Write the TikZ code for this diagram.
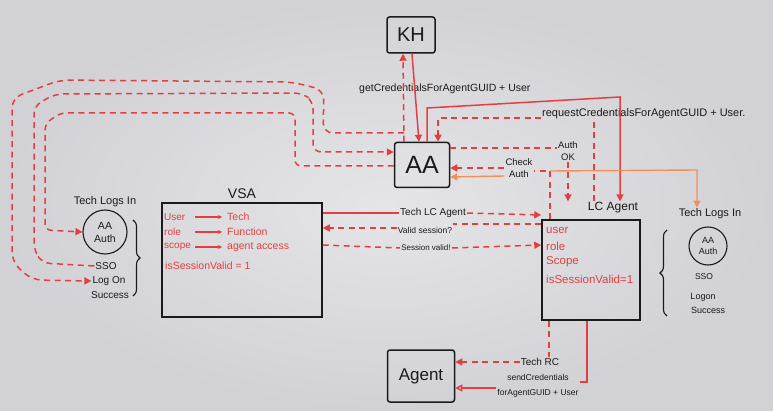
\documentclass[tikz,border=0pt]{standalone}
\usepackage{fontspec}
\setmainfont{Liberation Sans}
\usetikzlibrary{arrows.meta,decorations.pathreplacing,calc}
\definecolor{bgc}{RGB}{229,229,232}
\definecolor{bgo}{RGB}{210,210,214}
\definecolor{mred}{RGB}{226,64,64}
\definecolor{morange}{RGB}{240,145,85}
\definecolor{ink}{RGB}{26,26,26}
\begin{document}
\begin{tikzpicture}[x=1pt,y=-1pt,
  box/.style={draw=ink, line width=1.5pt, rounded corners=2.5pt, inner sep=0pt, text=ink},
  lbl/.style={text=ink, inner sep=1pt, font=\fontsize{9}{10}\selectfont},
  rtxt/.style={text=mred, inner sep=0pt, anchor=west, font=\fontsize{10.5}{11}\selectfont},
  ltxt/.style={rtxt, text width=29pt, align=left, font=\fontsize{10}{11}\selectfont},
  rl/.style={draw=mred, line width=1.5pt},
  rd/.style={rl, dash pattern=on 6pt off 4.5pt},
  ol/.style={draw=morange, line width=1.4pt},
  tip/.style={-{Triangle[length=7pt,width=7pt]}},
  otip/.style={-{Triangle[open,length=7pt,width=7pt]}},
  stip/.style={-{Stealth[length=4pt,width=4pt]}},
  brc/.style={draw=ink, line width=1.1pt, decorate, decoration={brace, amplitude=7pt}}
]
\useasboundingbox (0,0) rectangle (773,411);
\shade[inner color=bgc, outer color=bgo] (0,0) rectangle (773,411);

% main boxes
\node[box, minimum width=48pt, minimum height=36pt, font=\fontsize{20}{20}\selectfont] (kh) at (411,35) {KH};
\node[box, minimum width=55pt, minimum height=45pt, font=\fontsize{25}{25}\selectfont] (aa) at (422,165) {AA};
\node[box, rounded corners=0pt, minimum width=160pt, minimum height=114pt] (vsa) at (242,260) {};
\node[box, rounded corners=0pt, minimum width=98pt, minimum height=100pt] (lc) at (591,270) {};
\node[box, minimum width=67pt, minimum height=52pt, font=\fontsize{17}{17}\selectfont] (agent) at (421,376) {Agent};

% box titles
\node[lbl, font=\fontsize{14}{14}\selectfont] (vsal) at (242,194) {VSA};
\node[lbl, font=\fontsize{12}{12}\selectfont] (lcl) at (613,208) {LC Agent};

% VSA content
\node[ltxt] (u1) at (164,217) {User};
\node[rtxt] (u2) at (227,217) {Tech};
\node[ltxt] (r1) at (164,232) {role};
\node[rtxt] (r2) at (227,232) {Function};
\node[ltxt] (s1) at (164,247) {scope};
\node[rtxt] (s2) at (227,247) {agent access};
\node[rtxt] (iv) at (165,266) {isSessionValid = 1};
\draw[rl, line width=1.2pt, stip, shorten <=2pt, shorten >=5pt] (u1.east) -- (u2.west);
\draw[rl, line width=1.2pt, stip, shorten <=2pt, shorten >=5pt] (r1.east) -- (r2.west);
\draw[rl, line width=1.2pt, stip, shorten <=2pt, shorten >=5pt] (s1.east) -- (s2.west);

% LC Agent content
\node[rtxt, font=\fontsize{11.5}{12}\selectfont] (lu) at (546,230) {user};
\node[rtxt, font=\fontsize{11.5}{12}\selectfont] (lr) at (546,246) {role};
\node[rtxt, font=\fontsize{11.5}{12}\selectfont] (ls) at (546,262) {Scope};
\node[rtxt, font=\fontsize{11.5}{12}\selectfont] (li) at (546,279) {isSessionValid=1};

% left side group
\node[lbl, font=\fontsize{11}{11}\selectfont] (tliL) at (105,202) {Tech Logs In};
\node[draw=ink, line width=1.1pt, circle, minimum size=44pt, inner sep=0pt, text=ink, align=center,
      font=\fontsize{10.5}{13}\selectfont] (circL) at (105,232) {AA\\Auth};
\node[lbl, font=\fontsize{10}{10}\selectfont] (ssoL) at (106,266) {SSO};
\node[lbl, font=\fontsize{10}{10}\selectfont] (logonL) at (109,281) {Log On};
\node[lbl, font=\fontsize{10}{10}\selectfont] (succL) at (110,295) {Success};
\draw[brc] (133,220) -- (133,296);

% right side group
\node[lbl, font=\fontsize{11}{11}\selectfont] (tliR) at (710,214) {Tech Logs In};
\node[draw=ink, line width=1.1pt, circle, minimum size=38pt, inner sep=0pt, text=ink, align=center,
      font=\fontsize{9}{11}\selectfont] (circR) at (708,246) {AA\\Auth};
\node[lbl, font=\fontsize{8.5}{9}\selectfont] (ssoR) at (704,277) {SSO};
\node[lbl, font=\fontsize{9}{9}\selectfont] (logonR) at (703,297) {Logon};
\node[lbl, font=\fontsize{9}{9}\selectfont] (succR) at (708,310) {Success};
\draw[brc] (667,316) -- (667,230);

% labels on connectors
\node[lbl, anchor=west, font=\fontsize{10.5}{11}\selectfont] (getc) at (358,89) {getCredentialsForAgentGUID + User};
\node[lbl, anchor=west, font=\fontsize{11}{11}\selectfont] (reqc) at (541,114) {requestCredentialsForAgentGUID + User.};
\node[lbl, align=center, font=\fontsize{9.5}{12}\selectfont] (authok) at (568,151) {Auth\\OK};
\node[lbl, align=center, font=\fontsize{9.5}{12}\selectfont] (chk) at (519,168) {Check\\Auth};
\node[lbl, font=\fontsize{10}{10}\selectfont] (techlc) at (433,213) {Tech LC Agent};
\node[lbl, font=\fontsize{8.5}{9}\selectfont] (validq) at (425,230) {Valid session?};
\node[lbl, font=\fontsize{8}{9}\selectfont] (sessv) at (426,248) {Session valid!};
\node[lbl, font=\fontsize{10}{10}\selectfont] (techrc) at (540,362) {Tech RC};
\node[lbl, align=center, font=\fontsize{8.5}{14.5}\selectfont] (sendc) at (538,386) {sendCredentials\\forAgentGUID + User};

% AA <-> KH
\coordinate (j1) at (404,133);
\draw[rd, tip] (404,0 |- aa.north) -- (403,0 |- kh.south);
\draw[rl, tip] (412,0 |- kh.south) -- (419,0 |- aa.north);

% left loops
\draw[rd, tip, rounded corners=10pt] (j1) -- (323,133) -- (324,90) -- (292,82) -- (60,80) -- (12,98) -- (12,262) -- (32,280) -- (logonL.west);
\draw[rd, tip, rounded corners=8pt] (ssoL.west) -- (42,263) -- (34,250) -- (34,106) -- (55,94) -- (302,93) -- (313,101) -- (313,152) -- (aa.west |- 0,152);
\draw[rd, tip, rounded corners=6pt] (aa.west |- 0,166) -- (295,166) -- (295,113) -- (60,113) -- (45,124) -- (45,230) -- (circL.west);

% AA -> LC Agent (solid)
\draw[rl, tip] (427,0 |- aa.north) -- (427,108) -- (620,97) -- (620,0 |- lcl.north);

% request credentials (dashed)
\draw[rd] (594,0 |- lcl.north) -- (594,0 |- reqc.south);
\draw[rd, tip] (reqc.west |- 0,118) -- (438,118) -- (438,0 |- aa.north);

% Auth OK
\draw[rd] (aa.east |- 0,148) -- (authok.west |- 0,148);
\draw[rd, tip] (authok.south) -- (568,0 |- lcl.north);

% Check Auth
\coordinate (j2) at (550,171);
\draw[rd] (550,0 |- lc.north) -- (j2) -- (chk.east |- j2);
\draw[rd, tip] (chk.west |- 0,168) -- (aa.east |- 0,168);

% orange
\draw[ol, -{Triangle[length=7pt,width=7pt]}] (j2) -- (697,170) -- (697,0 |- tliR.north);
\draw[ol, -{Triangle[length=7pt,width=7pt]}] (chk.west |- 0,176) -- (aa.east |- 0,177);

% VSA <-> LC Agent
\draw[rl] (vsa.east |- 0,213) -- (techlc.west);
\draw[rd, tip] (techlc.east) -- (lc.west |- 0,215);
\draw[rd] (lc.west |- 0,224) -- (validq.east |- 0,224);
\draw[rd, tip] (validq.west |- 0,228) -- (vsa.east |- 0,228);
\draw[rd] (vsa.east |- 0,245) -- (sessv.west);
\draw[rd, tip] (sessv.east) -- (lc.west |- 0,245);

% LC Agent -> Agent
\draw[rd] (549,0 |- lc.south) -- (549,0 |- techrc.north);
\draw[rd, tip] (techrc.west) -- (agent.east |- techrc.west);
\draw[rl] (587,0 |- lc.south) -- (587,382) -- (sendc.east |- 0,382);
\draw[rl, otip] (sendc.west |- 0,388) -- (agent.east |- 0,388);
\end{tikzpicture}
\end{document}
